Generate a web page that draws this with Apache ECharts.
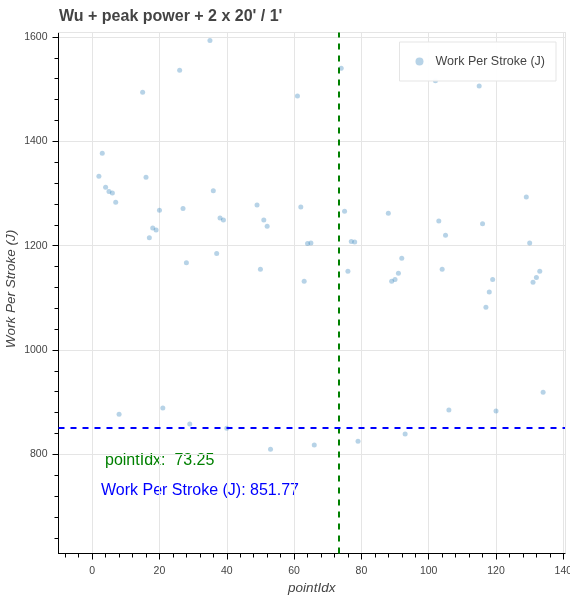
<!DOCTYPE html>
<html>
<head>
<meta charset="utf-8">
<script src="https://cdn.jsdelivr.net/npm/echarts@6/dist/echarts.min.js"></script>
<style>
  html, body { margin: 0; padding: 0; background: #fff; }
  #chart { width: 570px; height: 600px; }
</style>
</head>
<body>
<div id="chart"></div>
<script>
// stroke index and work per stroke
const pointIdx = [2, 3, 4, 5, 6, 7, 8,
    15, 16, 17, 18, 19, 20, 21,
    26, 27, 28, 29,
    35, 36, 37, 38, 39, 40,
    49, 50, 51, 52, 53,
    61, 62, 63, 64, 65, 66,
    74, 75, 76, 77, 78, 79,
    88, 89, 90, 91, 92, 93,
    102, 103, 104, 105, 106,
    115, 116, 117, 118, 119, 120,
    129, 130, 131, 132, 133, 134]
const workPerStroke = [1333, 1377, 1312, 1304, 1301, 1283, 877,
    1494, 1331, 1215, 1234, 1230, 1268, 889,
    1536, 1271, 1167, 858,
    1593, 1305, 1185, 1253, 1249, 850,
    1278, 1155, 1249, 1237, 810,
    1487, 1274, 1132, 1204, 1205, 818,
    1540, 1266, 1151, 1208, 1207, 825,
    1262, 1132, 1135, 1147, 1176, 839,
    1516, 1247, 1155, 1220, 885,
    1506, 1242, 1082, 1111, 1135, 883,
    1293, 1205, 1130, 1139, 1151, 919]

// crosshair position
const cursorX = 73.25
const cursorY = 851.77

const xTicks = [0, 20, 40, 60, 80, 100, 120, 140]
const yTicks = [800, 1000, 1200, 1400, 1600]

const xRange = [-10, 140.5]
const yRange = [610, 1608.5]

const FONT = 'Liberation Sans, Helvetica, Arial, sans-serif'

// minor ticks, 5 per major step
var xMinor = []
for (var v = -8; v <= 140; v += 4) xMinor.push(v)
var yMinor = []
for (var w = 640; w <= 1600; w += 40) yMinor.push(w)

var data = pointIdx.map((x, i) => [x, workPerStroke[i]])

// plain axis used only to draw a line (minor ticks / frame)
function bareAxis(position, range, lineColor, ticks) {
    return {
        type: 'value',
        position: position,
        min: range[0],
        max: range[1],
        axisLine: { show: !!lineColor, onZero: false, lineStyle: { color: lineColor || '#000', width: 1 } },
        axisTick: ticks ? { show: true, length: 4, customValues: ticks, lineStyle: { color: '#000' } } : { show: false },
        axisLabel: { show: false },
        splitLine: { show: false }
    }
}

var option = {
    animation: false,
    backgroundColor: '#fff',
    title: {
        text: "Wu + peak power + 2 x 20' / 1'",
        left: 54,
        top: 4,
        textStyle: { fontSize: 16, fontWeight: 'bold', color: '#444', fontFamily: FONT }
    },
    legend: {
        right: 14,
        top: 42,
        orient: 'vertical',
        padding: [13, 11, 13, 16],
        backgroundColor: 'rgba(255,255,255,0.95)',
        borderColor: '#e5e5e5',
        borderWidth: 1,
        itemWidth: 8,
        itemHeight: 8,
        icon: 'circle',
        textStyle: { fontSize: 12.5, color: '#444', fontFamily: FONT, padding: [0, 0, 0, 7] },
        data: ['Work Per Stroke (J)']
    },
    grid: {
        left: 58.5,
        right: 5,
        top: 32.5,
        bottom: 46.5,
        containLabel: false,
        outerBoundsMode: 'none'
    },
    xAxis: [
        {
            type: 'value',
            position: 'bottom',
            min: xRange[0],
            max: xRange[1],
            name: 'pointIdx',
            nameLocation: 'middle',
            nameGap: 28,
            nameMoveOverlap: false,
            nameTextStyle: { fontSize: 13.5, fontStyle: 'italic', color: '#444', fontFamily: FONT },
            axisLine: { show: true, onZero: false, lineStyle: { color: '#000', width: 1 } },
            axisTick: { show: true, length: 6, customValues: xTicks, lineStyle: { color: '#000' } },
            axisLabel: { customValues: xTicks, margin: 12, fontSize: 10.5, color: '#444', fontFamily: FONT,
                formatter: val => String(val) },
            splitLine: { show: true, lineStyle: { color: '#e5e5e5', width: 1 } }
        },
        bareAxis('bottom', xRange, null, xMinor),
        bareAxis('top', xRange, '#e5e5e5', null)
    ],
    yAxis: [
        {
            type: 'value',
            position: 'left',
            min: yRange[0],
            max: yRange[1],
            name: 'Work Per Stroke (J)',
            nameLocation: 'middle',
            nameGap: 40,
            nameMoveOverlap: false,
            nameTextStyle: { fontSize: 13.5, fontStyle: 'italic', color: '#444', fontFamily: FONT,
                padding: [0, 0, 0, 8] },
            axisLine: { show: true, onZero: false, lineStyle: { color: '#000', width: 1 } },
            axisTick: { show: true, length: 6, customValues: yTicks, lineStyle: { color: '#000' } },
            axisLabel: { customValues: yTicks, margin: 11, fontSize: 10.5, color: '#444', fontFamily: FONT,
                formatter: val => String(val) },
            splitLine: { show: true, lineStyle: { color: '#e5e5e5', width: 1 } }
        },
        bareAxis('left', yRange, null, yMinor),
        bareAxis('right', yRange, '#e5e5e5', null)
    ],
    series: [
        {
            name: 'Work Per Stroke (J)',
            type: 'scatter',
            xAxisIndex: 0,
            yAxisIndex: 0,
            symbol: 'circle',
            symbolSize: 5,
            itemStyle: { color: 'rgba(31,119,180,0.4)' },
            data: data,
            markLine: {
                silent: true,
                symbol: 'none',
                label: { show: false },
                data: [
                    { xAxis: cursorX, lineStyle: { color: '#008000', width: 2, type: [6, 6] } },
                    { yAxis: cursorY, lineStyle: { color: '#0000ff', width: 2, type: [6, 6] } }
                ]
            }
        }
    ],
    graphic: [
        {
            type: 'text',
            left: 105,
            top: 453,
            style: { text: 'pointIdx:  ' + cursorX, fill: '#008000', fontSize: 16, fontFamily: FONT }
        },
        {
            type: 'text',
            left: 101,
            top: 483,
            style: { text: 'Work Per Stroke (J): ' + cursorY, fill: '#0000ff', fontSize: 16, fontFamily: FONT }
        }
    ]
}

echarts.init(document.getElementById('chart')).setOption(option)
</script>
</body>
</html>
